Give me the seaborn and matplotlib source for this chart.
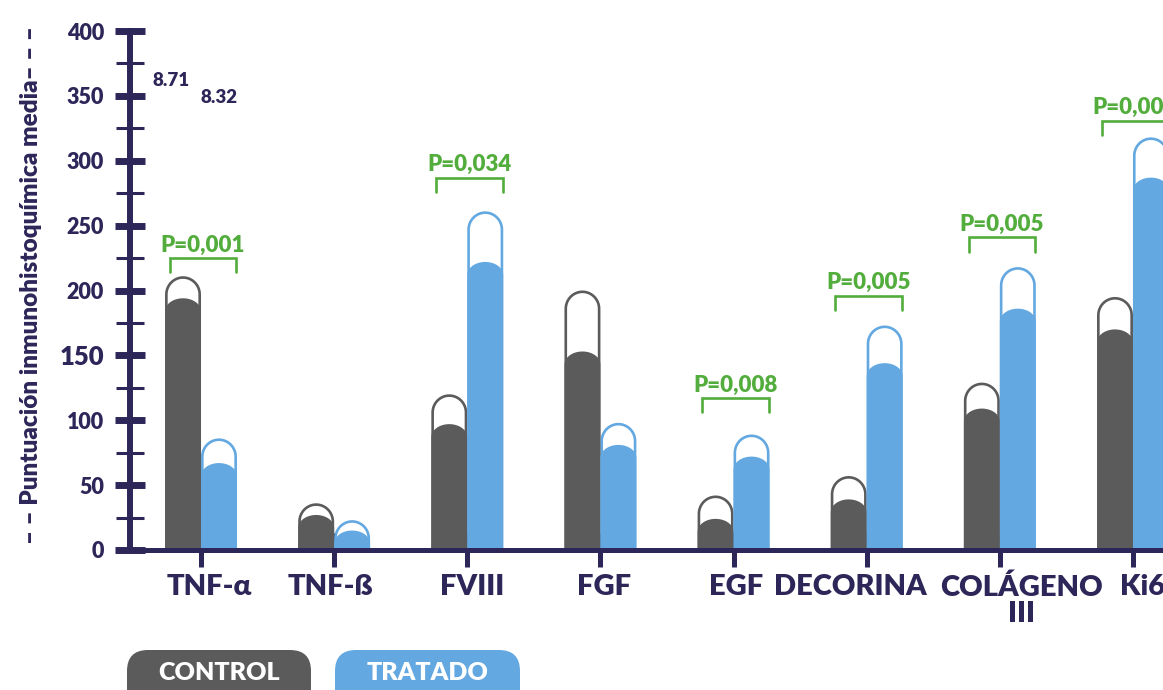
import numpy as np
import pandas as pd
import seaborn as sns
import matplotlib.pyplot as plt
import matplotlib.transforms as mtrans
from matplotlib.patches import PathPatch, FancyBboxPatch
from matplotlib.path import Path

sns.set_style("white")
plt.rcParams["font.family"] = ["Lato", "DejaVu Sans"]

# ---------------------------------------------------------------------------
# data
# ---------------------------------------------------------------------------
marcadores = ["TNF-α", "TNF-ß", "FVIII", "FGF", "EGF", "DECORINA",
              "COLÁGENO\nIII", "Ki67"]
grupos = ["CONTROL", "TRATADO"]
control_media = [194, 27, 97, 153, 24, 39, 109, 170]
control_sup = [211, 36, 120, 200, 42, 57, 129, 195]
tratado_media = [67, 15, 222, 81, 72, 144, 186, 287]
tratado_sup = [86, 23, 261, 98, 89, 173, 218, 318]

p_marcador = ["TNF-α", "FVIII", "EGF", "DECORINA", "COLÁGENO\nIII", "Ki67"]
p_texto = ["P=0,001", "P=0,034", "P=0,008", "P=0,005", "P=0,005", "P=0,002"]
p_altura = [225, 287, 117, 196, 241, 331]

notas = ["8.71", "8.32"]
y_ticks = list(range(0, 401, 50))
y_minor = list(range(25, 400, 50))

NAVY = "#2d2659"
GRIS = "#5b5b5b"
AZUL = "#63a8e0"
VERDE = "#52ad3c"
colores = {"CONTROL": GRIS, "TRATADO": AZUL}

df = pd.DataFrame({
    "marcador": marcadores * 2,
    "grupo": [grupos[0]] * len(marcadores) + [grupos[1]] * len(marcadores),
    "media": control_media + tratado_media,
    "superior": control_sup + tratado_sup,
})

# ---------------------------------------------------------------------------
# figure, pixel-exact axes box
# ---------------------------------------------------------------------------
W, H = 1163, 690
fig = plt.figure(figsize=(W / 100, H / 100), dpi=100)
ax_l, ax_r, ax_b, ax_t = 130, 1163, 550, 31
ax = fig.add_axes([ax_l / W, (H - ax_b) / H, (ax_r - ax_l) / W, (ax_b - ax_t) / H])

common = dict(x="marcador", hue="grupo", palette=colores, width=0.54,
              saturation=1, errorbar=None, legend=False, ax=ax,
              order=marcadores, hue_order=grupos)
sns.barplot(data=df, y="superior", **common)
n_sup = len(ax.patches)
sns.barplot(data=df, y="media", **common)

step_px = 133.14
ax.set_xlim(-(201 - ax_l) / step_px, (ax_r - 201) / step_px)
ax.set_ylim(0, 400)
px_y = (ax_b - ax_t) / 400.0
px_x = step_px


def dome(x0, w, h, ry):
    t = np.linspace(np.pi, 0, 40)
    cx = x0 + w / 2
    return np.column_stack([cx + w / 2 * np.cos(t), h - ry + ry * np.sin(t)])


# turn seaborn's flat bars into rounded-top bars
for i, p in enumerate(list(ax.patches)):
    x0, w, h = p.get_x(), p.get_width(), p.get_height()
    col = p.get_facecolor()
    p.remove()
    if i < n_sup:
        ins = 1.3 / px_x
        insy = 1.3 / px_y
        arc = dome(x0 + ins, w - 2 * ins, h - insy, 17 / px_y)
        verts = np.vstack([[x0 + ins, 0], arc, [x0 + w - ins, 0]])
        patch = PathPatch(Path(verts), facecolor="white", edgecolor=col,
                          lw=1.9, zorder=2)
    else:
        arc = dome(x0, w, h, 13 / px_y)
        verts = np.vstack([[x0, 0], arc, [x0 + w, 0], [x0, 0]])
        patch = PathPatch(Path(verts), facecolor=col, edgecolor="none",
                          zorder=3)
    ax.add_patch(patch)

# p-value brackets
for m, txt, y in zip(p_marcador, p_texto, p_altura):
    c = marcadores.index(m)
    xa, xb = c - 0.235, c + 0.265
    ax.plot([xa, xa, xb, xb], [y - 11, y, y, y - 11], color=VERDE, lw=1.9,
            solid_joinstyle="miter", clip_on=False, zorder=4)
    ax.text(c + 0.015, y + 5, txt, color=VERDE, fontsize=16, fontweight="heavy",
            ha="center", va="baseline", clip_on=False)

ax.text(-0.225, 362, notas[0], color=NAVY, fontsize=13.5, fontweight="heavy",
        ha="center", va="center")
ax.text(0.135, 349, notas[1], color=NAVY, fontsize=13.5, fontweight="heavy",
        ha="center", va="center")

# axes styling
for s in ["top", "right", "bottom"]:
    ax.spines[s].set_visible(False)
ax.spines["left"].set_color(NAVY)
ax.spines["left"].set_linewidth(4.3)
ax.spines["left"].set_zorder(5)
xl = ax.get_xlim()
ax.plot([xl[0] - 13 / px_x, xl[1] + 0.2], [0, 0], color=NAVY, lw=3.6,
        clip_on=False, zorder=5, solid_capstyle="butt")

ax.set_yticks(y_ticks)
ax.set_yticks(y_minor, minor=True)
ax.tick_params(axis="y", which="both", left=True)
ax.tick_params(axis="y", which="major", direction="inout", length=21.5,
               width=5, color=NAVY, labelcolor=NAVY, labelsize=15.5, pad=8)
ax.tick_params(axis="y", which="minor", direction="inout", length=20,
               width=2.2, color=NAVY)
for lab in ax.get_yticklabels():
    lab.set_fontweight("heavy")
    if lab.get_text() == "150":
        lab.set_fontsize(18.5)

ax.tick_params(axis="x", bottom=True, direction="inout", length=25,
               width=3.6, color=NAVY, labelbottom=False)
ax.set_xlabel("")

# category labels, nudged like in the original layout
lab_dx = [8, -4, 5, 4, 3, -16, 22, 18]
trans = mtrans.blended_transform_factory(ax.transData, ax.transAxes)
for i, (m, dx) in enumerate(zip(marcadores, lab_dx)):
    ax.text(i + dx / px_x, (ax_b - 574) / (ax_b - ax_t), m, transform=trans,
            color=NAVY, fontsize=21, fontweight="heavy", ha="center",
            va="top", linespacing=1.0, clip_on=False)

ax.set_ylabel("– – Puntuación inmunohistoquímica media– – –", color=NAVY,
              fontsize=17.5, fontweight="heavy")
ax.yaxis.set_label_coords((42 - ax_l) / (ax_r - ax_l), (ax_b - 285) / (ax_b - ax_t))

# legend pills (pixel coordinates)
for g, x0, x1 in zip(grupos, [127, 335], [311, 520]):
    pill = FancyBboxPatch((x0, -30), x1 - x0, 70,
                          boxstyle="round,pad=0,rounding_size=21",
                          transform=mtrans.IdentityTransform(),
                          facecolor=colores[g], edgecolor="none")
    fig.patches.append(pill)
    fig.text((x0 + x1) / 2 / W, (H - 673) / H, g, color="white", fontsize=18,
             fontweight="heavy", ha="center", va="center")

fig.savefig("out.png", dpi=100)
